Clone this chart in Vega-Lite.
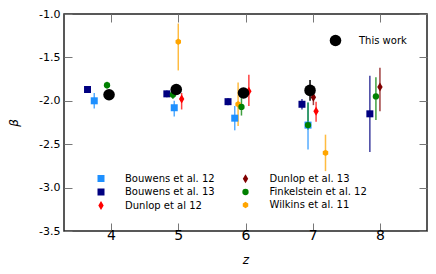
{
  "$schema": "https://vega.github.io/schema/vega-lite/v6.json",
  "width": 363,
  "height": 217,
  "autosize": {"type": "none"},
  "padding": {"left": 64, "top": 14, "right": 9, "bottom": 43},
  "background": "white",
  "config": {
    "font": "DejaVu Sans",
    "view": {"stroke": "#222", "strokeWidth": 1.5},
    "axis": {"grid": false, "domain": false, "labelFont": "DejaVu Sans", "titleFont": "DejaVu Sans", "labelColor": "black", "titleColor": "black", "tickColor": "#777", "tickWidth": 1, "tickSize": -8},
    "legend": {"labelFont": "DejaVu Sans", "labelFontSize": 10, "labelColor": "black", "padding": 0}
  },
  "datasets": {
    "series": [
      {"series": "Bouwens et al. 12", "z": 3.75, "beta": -2.00, "lo": -1.91, "hi": -2.09},
      {"series": "Bouwens et al. 12", "z": 4.94, "beta": -2.08, "lo": -2.00, "hi": -2.18},
      {"series": "Bouwens et al. 12", "z": 5.84, "beta": -2.20, "lo": -2.06, "hi": -2.34},
      {"series": "Bouwens et al. 12", "z": 6.93, "beta": -2.28, "lo": -2.02, "hi": -2.56},
      {"series": "Bouwens et al. 13", "z": 3.65, "beta": -1.87, "lo": -1.83, "hi": -1.91},
      {"series": "Bouwens et al. 13", "z": 4.83, "beta": -1.92, "lo": -1.88, "hi": -1.96},
      {"series": "Bouwens et al. 13", "z": 5.74, "beta": -2.01, "lo": -1.97, "hi": -2.05},
      {"series": "Bouwens et al. 13", "z": 6.84, "beta": -2.04, "lo": -1.98, "hi": -2.10},
      {"series": "Bouwens et al. 13", "z": 7.85, "beta": -2.15, "lo": -1.71, "hi": -2.59},
      {"series": "Wilkins et al. 11", "z": 5.00, "beta": -1.32, "lo": -1.11, "hi": -1.65},
      {"series": "Wilkins et al. 11", "z": 5.89, "beta": -2.04, "lo": -1.79, "hi": -2.29},
      {"series": "Wilkins et al. 11", "z": 7.19, "beta": -2.60, "lo": -2.39, "hi": -2.81},
      {"series": "Dunlop et al 12", "z": 5.05, "beta": -1.98, "lo": -1.91, "hi": -2.10},
      {"series": "Dunlop et al 12", "z": 6.05, "beta": -1.89, "lo": -1.70, "hi": -2.06},
      {"series": "Dunlop et al 12", "z": 7.05, "beta": -2.12, "lo": -2.01, "hi": -2.24},
      {"series": "Dunlop et al. 13", "z": 7.01, "beta": -1.96, "lo": -1.85, "hi": -2.05},
      {"series": "Dunlop et al. 13", "z": 8.00, "beta": -1.84, "lo": -1.62, "hi": -2.12},
      {"series": "Finkelstein et al. 12", "z": 3.94, "beta": -1.82, "lo": -1.78, "hi": -1.86},
      {"series": "Finkelstein et al. 12", "z": 4.92, "beta": -1.93, "lo": -1.88, "hi": -1.98},
      {"series": "Finkelstein et al. 12", "z": 5.94, "beta": -2.07, "lo": -1.97, "hi": -2.17},
      {"series": "Finkelstein et al. 12", "z": 6.93, "beta": -2.28, "lo": -2.02, "hi": -2.33},
      {"series": "Finkelstein et al. 12", "z": 7.94, "beta": -1.95, "lo": -1.73, "hi": -2.22}
    ],
    "thiswork": [
      {"src": "This work", "z": 3.97, "beta": -1.93, "lo": -1.88, "hi": -1.98},
      {"src": "This work", "z": 4.97, "beta": -1.87, "lo": -1.82, "hi": -1.92},
      {"src": "This work", "z": 5.97, "beta": -1.91, "lo": -1.86, "hi": -1.96},
      {"src": "This work", "z": 6.96, "beta": -1.88, "lo": -1.76, "hi": -2.00}
    ]
  },
  "layer": [
    {
      "data": {"name": "series"},
      "mark": {"type": "rule", "strokeWidth": 1.5, "opacity": 0.75},
      "encoding": {
        "x": {"field": "z", "type": "quantitative", "scale": {"domain": [3.3, 8.7], "nice": false, "zero": false},
              "axis": {"orient": "top", "labels": false, "title": null, "values": [4, 5, 6, 7, 8]}},
        "y": {"field": "lo", "type": "quantitative", "scale": {"domain": [-3.5, -1.0], "nice": false, "zero": false},
              "axis": {"orient": "right", "labels": false, "title": null, "values": [-1.0, -1.5, -2.0, -2.5, -3.0, -3.5]}},
        "y2": {"field": "hi"},
        "stroke": {"field": "series", "type": "nominal", "legend": null,
                  "scale": {"domain": ["Wilkins et al. 11", "Finkelstein et al. 12", "Dunlop et al. 13", "Dunlop et al 12", "Bouwens et al. 13", "Bouwens et al. 12"],
                            "range": ["#ffa500", "#008000", "#800000", "#ff0000", "#000080", "#1e90ff"]}}
      }
    },
    {
      "data": {"name": "series"},
      "mark": {"type": "point", "filled": true, "opacity": 1, "strokeWidth": 0},
      "encoding": {
        "x": {"field": "z", "type": "quantitative",
              "axis": {"orient": "bottom", "title": "z", "values": [4, 5, 6, 7, 8], "format": "d", "labelFontSize": 14, "labelPadding": 5,
                       "titleFontStyle": "italic", "titleFontWeight": "normal", "titleFontSize": 12, "titlePadding": 12}},
        "y": {"field": "beta", "type": "quantitative",
              "axis": {"orient": "left", "title": "β", "values": [-1.0, -1.5, -2.0, -2.5, -3.0, -3.5],
                       "labelExpr": "(datum.value < 0 ? '-' : '') + format(abs(datum.value), '.1f')",
                       "labelFontSize": 11, "labelPadding": 12, "titleFontStyle": "italic", "titleFontWeight": "normal", "titleFontSize": 12, "titlePadding": 18}},
        "color": {"field": "series", "type": "nominal",
                  "scale": {"domain": ["Bouwens et al. 12", "Bouwens et al. 13", "Dunlop et al 12", "Dunlop et al. 13", "Finkelstein et al. 12", "Wilkins et al. 11"],
                            "range": ["#1e90ff", "#000080", "#ff0000", "#800000", "#008000", "#ffa500"]},
                  "legend": {"orient": "none", "legendX": 31.5, "legendY": 159, "columns": 2, "columnPadding": 24.5, "labelOffset": 18.5, "rowPadding": 3, "title": null}},
        "shape": {"field": "series", "type": "nominal",
                  "scale": {"domain": ["Bouwens et al. 12", "Bouwens et al. 13", "Dunlop et al 12", "Dunlop et al. 13", "Finkelstein et al. 12", "Wilkins et al. 11"],
                            "range": ["square", "square", "M0,-1L0.6,0L0,1L-0.6,0Z", "M0,-1L0.6,0L0,1L-0.6,0Z", "circle", "M0,-1L0.866,-0.5L0.866,0.5L0,1L-0.866,0.5L-0.866,-0.5Z"]},
                  "legend": {"orient": "none", "legendX": 31.5, "legendY": 159, "columns": 2, "columnPadding": 24.5, "labelOffset": 18.5, "rowPadding": 3, "title": null}},
        "size": {"field": "series", "type": "nominal",
                 "scale": {"type": "ordinal", "domain": ["Bouwens et al. 12", "Bouwens et al. 13", "Dunlop et al 12", "Dunlop et al. 13", "Finkelstein et al. 12", "Wilkins et al. 11"],
                           "range": [49, 49, 81, 81, 40, 40]},
                 "legend": {"orient": "none", "legendX": 31.5, "legendY": 159, "columns": 2, "columnPadding": 24.5, "labelOffset": 18.5, "rowPadding": 3, "title": null}}
      }
    },
    {
      "data": {"name": "thiswork"},
      "mark": {"type": "rule", "strokeWidth": 1.5, "color": "black"},
      "encoding": {
        "x": {"field": "z", "type": "quantitative", "axis": null},
        "y": {"field": "lo", "type": "quantitative", "axis": null},
        "y2": {"field": "hi"}
      }
    },
    {
      "data": {"name": "thiswork"},
      "mark": {"type": "circle", "size": 133, "opacity": 1},
      "encoding": {
        "x": {"field": "z", "type": "quantitative", "axis": null},
        "y": {"field": "beta", "type": "quantitative", "axis": null},
        "fill": {"field": "src", "type": "nominal", "scale": {"domain": ["This work"], "range": ["black"]},
                 "legend": {"orient": "none", "legendX": 264.5, "legendY": 19.5, "labelOffset": 16.5, "symbolSize": 133, "title": null}}
      }
    }
  ]
}
